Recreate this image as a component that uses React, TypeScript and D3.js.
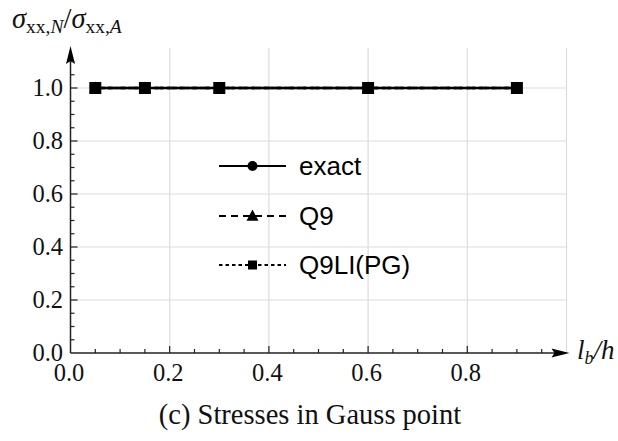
import React from "react";
import * as d3 from "d3";

const xValues = [0.05, 0.15, 0.3, 0.6, 0.9];
const exactValues = [1.0, 1.0, 1.0, 1.0, 1.0];
const q9Values = [1.0, 1.0, 1.0, 1.0, 1.0];
const q9liValues = [1.0, 1.0, 1.0, 1.0, 1.0];
const xTicks = [0.0, 0.2, 0.4, 0.6, 0.8];
const yTicks = [0.0, 0.2, 0.4, 0.6, 0.8, 1.0];
const gridX = [0.2, 0.4, 0.6, 0.8, 1.0];
const gridY = [0.2, 0.4, 0.6, 0.8, 1.0];
const seriesNames = ["exact", "Q9", "Q9LI(PG)"];

const W = 618;
const H = 441;

export default function App() {
  const x = d3.scaleLinear().domain([0, 1]).range([70.5, 566.5]);
  const y = d3.scaleLinear().domain([0, 1]).range([353, 88]);
  const yTop = y(1.151);
  const xEnd = x(1.0);
  const minorX = d3.range(0, 20).map((i) => i * 0.05);
  const minorY = d3.range(0, 23).map((i) => i * 0.05);
  const line = d3
    .line<number>()
    .x((_, i) => x(xValues[i]))
    .y((v) => y(v));
  const serif = "'Liberation Serif', 'Times New Roman', serif";
  const sans = "'Liberation Sans', Arial, sans-serif";
  const axisColor = "#222";
  const legendY = [166, 216, 265];
  const legendX0 = 219;
  const legendX1 = 286;
  const legendMid = (legendX0 + legendX1) / 2;
  const dashes = ["none", "7,5", "3.5,3"];

  const marker = (kind: number, cx: number, cy: number, s: number, key: string) => {
    if (kind === 0) return <circle key={key} cx={cx} cy={cy} r={s / 2} fill="#000" />;
    if (kind === 1) {
      const h = s * 0.9;
      return (
        <path
          key={key}
          d={`M${cx},${cy - h * 0.6} L${cx + s / 2},${cy + h * 0.45} L${cx - s / 2},${cy + h * 0.45} Z`}
          fill="#000"
        />
      );
    }
    return <rect key={key} x={cx - s / 2} y={cy - s / 2} width={s} height={s} fill="#000" />;
  };

  const data = [exactValues, q9Values, q9liValues];

  return (
    <svg
      width={W}
      height={H}
      style={{ position: "absolute", left: 0, top: 0, background: "#fff" }}
    >
      <rect x={0} y={0} width={W} height={H} fill="#fff" />
      {/* grid */}
      {gridX.map((v) => (
        <line key={"gx" + v} x1={x(v)} x2={x(v)} y1={yTop} y2={y(0)} stroke="#dcdcdc" strokeWidth={1.2} />
      ))}
      {gridY.map((v) => (
        <line key={"gy" + v} x1={x(0)} x2={xEnd} y1={y(v)} y2={y(v)} stroke="#dcdcdc" strokeWidth={1.2} />
      ))}
      {/* axes */}
      <line x1={x(0)} x2={x(1.0) - 6} y1={y(0)} y2={y(0)} stroke={axisColor} strokeWidth={1.5} />
      <line x1={x(0)} x2={x(0)} y1={y(0)} y2={yTop + 8} stroke={axisColor} strokeWidth={1.5} />
      <path
        d={`M${xEnd + 3},${y(0)} L${xEnd - 15},${y(0) - 4.5} L${xEnd - 12},${y(0)} L${xEnd - 15},${y(0) + 4.5} Z`}
        fill="#000"
      />
      <path
        d={`M${x(0)},${yTop - 2} L${x(0) - 4.5},${yTop + 16} L${x(0)},${yTop + 13} L${x(0) + 4.5},${yTop + 16} Z`}
        fill="#000"
      />
      {/* minor/major ticks */}
      {minorX.slice(1).map((v, i) => {
        const major = (i + 1) % 4 === 0;
        return (
          <line key={"tx" + i} x1={x(v)} x2={x(v)} y1={y(0)} y2={y(0) - (major ? 7 : 4)} stroke={axisColor} strokeWidth={1.2} />
        );
      })}
      {minorY.slice(1).map((v, i) => {
        const major = (i + 1) % 4 === 0;
        return (
          <line key={"ty" + i} x1={x(0)} x2={x(0) + (major ? 7 : 4)} y1={y(v)} y2={y(v)} stroke={axisColor} strokeWidth={1.2} />
        );
      })}
      {/* tick labels */}
      {xTicks.map((v) => (
        <text key={"lx" + v} x={x(v) - 1.5} y={381} fontFamily={serif} fontSize={24.5} textAnchor="middle" fill="#111">
          {d3.format(".1f")(v)}
        </text>
      ))}
      {yTicks.map((v) => (
        <text key={"ly" + v} x={63} y={y(v) + 8} fontFamily={serif} fontSize={24.5} textAnchor="end" fill="#111">
          {d3.format(".1f")(v)}
        </text>
      ))}
      {/* axis labels */}
      <text x={12} y={28} fontFamily={serif} fontSize={28.5} fill="#111">
        <tspan fontStyle="italic">σ</tspan>
        <tspan fontSize={19.5} dy={5}>xx,</tspan>
        <tspan fontSize={19.5} fontStyle="italic">N</tspan>
        <tspan dy={-5}>/</tspan>
        <tspan fontStyle="italic">σ</tspan>
        <tspan fontSize={19.5} dy={5}>xx,</tspan>
        <tspan fontSize={19.5} fontStyle="italic">A</tspan>
      </text>
      <text x={577} y={359} fontFamily={serif} fontSize={27} fontStyle="italic" fill="#111">
        <tspan>l</tspan>
        <tspan fontSize={18} dy={5}>b</tspan>
        <tspan dy={-5}>/h</tspan>
      </text>
      {/* series */}
      {data.map((vals, k) => (
        <path
          key={"s" + k}
          d={line(vals) || ""}
          fill="none"
          stroke="#000"
          strokeWidth={2.6}
          strokeDasharray={dashes[k]}
        />
      ))}
      {data.map((vals, k) =>
        vals.map((v, i) => marker(k, x(xValues[i]), y(v), k === 0 ? 10 : 12, `m${k}-${i}`))
      )}
      {/* legend */}
      {seriesNames.map((name, k) => (
        <g key={"lg" + k}>
          <line
            x1={legendX0}
            x2={legendX1}
            y1={legendY[k]}
            y2={legendY[k]}
            stroke="#000"
            strokeWidth={2}
            strokeDasharray={dashes[k]}
          />
          {marker(k, legendMid, legendY[k], k === 0 ? 10 : k === 1 ? 12 : 9, "lm" + k)}
          <text x={299} y={legendY[k] + 9} fontFamily={sans} fontSize={26} fill="#000">
            {name}
          </text>
        </g>
      ))}
      {/* caption */}
      <text x={310} y={424} fontFamily={serif} fontSize={28.5} textAnchor="middle" fill="#111">
        (c) Stresses in Gauss point
      </text>
    </svg>
  );
}
